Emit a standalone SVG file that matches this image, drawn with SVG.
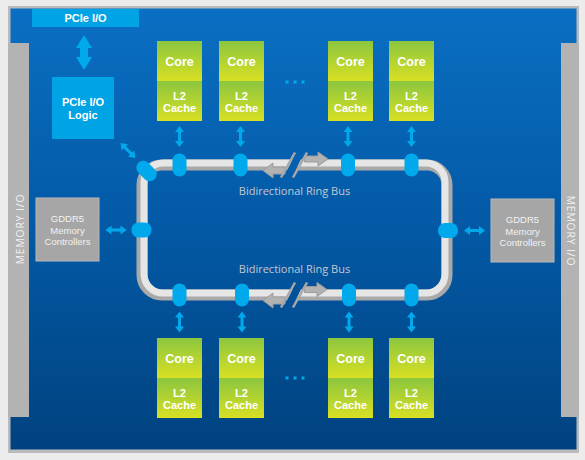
<svg xmlns="http://www.w3.org/2000/svg" width="585" height="460" viewBox="0 0 585 460">
  <defs>
    <linearGradient id="chipBlue" x1="0" y1="0" x2="0" y2="1">
      <stop offset="0" stop-color="#0a6fc3"/>
      <stop offset="0.5" stop-color="#0359a5"/>
      <stop offset="1" stop-color="#00427f"/>
    </linearGradient>
    <linearGradient id="coreGreen" x1="0" y1="0" x2="0" y2="1">
      <stop offset="0" stop-color="#8cc63f"/>
      <stop offset="1" stop-color="#d8e023"/>
    </linearGradient>
    <!-- small cyan double-headed arrow, centred on the origin, vertical -->
    <path id="dblArrow" d="M0,-10.5 L4.5,-4.5 L1.5,-4.5 L1.5,4.5 L4.5,4.5 L0,10.5 L-4.5,4.5 L-1.5,4.5 L-1.5,-4.5 L-4.5,-4.5 Z"/>
    <!-- cuts in the ring where the bus is drawn as continuing -->
    <mask id="ringCut" maskUnits="userSpaceOnUse" x="0" y="0" width="585" height="460">
      <rect x="0" y="0" width="585" height="460" fill="#fff"/>
      <polygon points="282.5,180 297,150 305.5,150 291,180" fill="#000"/>
      <polygon points="282.5,310 297,280 305.5,280 291,310" fill="#000"/>
    </mask>
  </defs>
  <style>
    .lbl { font-family: "Liberation Sans", Arial, sans-serif; fill: #ffffff; text-anchor: middle; font-weight: 700; }
    .core { font-size: 12.5px; }
    .l2 { font-size: 11px; }
    .mem { font-size: 9.5px; font-weight: 400; fill: #f2f2f2; }
    .bus { font-family: "Open Sans", "Liberation Sans", sans-serif; font-size: 11px; fill: #c3c9d0; text-anchor: middle; }
    .side { font-family: "Open Sans", "Liberation Sans", sans-serif; font-size: 10.3px; fill: #f4f4f4; text-anchor: middle; letter-spacing: 0.9px; }
    .cyan { fill: #00a9ec; }
    .slash { stroke: #a8a8a8; stroke-width: 2.5; fill: none; }
    .flow { fill: #b2b2b2; stroke: #9c9c9c; stroke-width: 1; }
    .dot { fill: #00a9ec; }
  </style>

  <!-- page and chip outline -->
  <rect x="0" y="0" width="585" height="460" fill="#ececec"/>
  <rect x="8" y="6" width="571" height="447" fill="#bababa"/>
  <rect x="10.5" y="8.5" width="566" height="441" fill="url(#chipBlue)"/>

  <!-- memory I/O strips -->
  <g id="mem-io-left">
    <rect x="8" y="43" width="21" height="374" fill="#b3b3b3"/>
    <text class="side" transform="translate(23.5,229) rotate(-90)">MEMORY I/O</text>
  </g>
  <g id="mem-io-right">
    <rect x="561" y="43" width="18" height="374" fill="#b3b3b3"/>
    <text class="side" transform="translate(566.5,231) rotate(90)">MEMORY I/O</text>
  </g>

  <!-- PCIe -->
  <g id="pcie-io">
    <rect x="32" y="9" width="107" height="18" fill="#00a3e4"/>
    <text class="lbl" x="85.5" y="22" font-size="11">PCIe I/O</text>
  </g>
  <g id="pcie-logic">
    <rect x="52" y="77" width="62" height="62" fill="#00a3e4"/>
    <text class="lbl" font-size="11"><tspan x="83" y="106">PCIe I/O</tspan><tspan x="83" y="119">Logic</tspan></text>
  </g>

  <!-- GDDR5 memory controllers -->
  <g id="gddr5-left">
    <rect x="36" y="198" width="63" height="63" fill="#a6a6a6" stroke="#b8b8b8" stroke-width="1"/>
    <text class="lbl mem"><tspan x="67.5" y="222">GDDR5</tspan><tspan x="67.5" y="233.5">Memory</tspan><tspan x="67.5" y="245">Controllers</tspan></text>
  </g>
  <g id="gddr5-right">
    <rect x="491" y="199" width="63" height="63" fill="#a6a6a6" stroke="#b8b8b8" stroke-width="1"/>
    <text class="lbl mem"><tspan x="522.5" y="223">GDDR5</tspan><tspan x="522.5" y="234.5">Memory</tspan><tspan x="522.5" y="246">Controllers</tspan></text>
  </g>

  <!-- cores, top row -->
  <g id="core-top-1">
    <rect x="157" y="41" width="45" height="40" fill="url(#coreGreen)"/>
    <rect x="157" y="81" width="45" height="40" fill="url(#coreGreen)"/>
    <text class="lbl core" x="179.5" y="66">Core</text>
    <text class="lbl l2"><tspan x="179.5" y="99.5">L2</tspan><tspan x="179.5" y="112">Cache</tspan></text>
  </g>
  <g id="core-top-2">
    <rect x="219" y="41" width="45" height="40" fill="url(#coreGreen)"/>
    <rect x="219" y="81" width="45" height="40" fill="url(#coreGreen)"/>
    <text class="lbl core" x="241.5" y="66">Core</text>
    <text class="lbl l2"><tspan x="241.5" y="99.5">L2</tspan><tspan x="241.5" y="112">Cache</tspan></text>
  </g>
  <g id="core-top-3">
    <rect x="328" y="41" width="45" height="40" fill="url(#coreGreen)"/>
    <rect x="328" y="81" width="45" height="40" fill="url(#coreGreen)"/>
    <text class="lbl core" x="350.5" y="66">Core</text>
    <text class="lbl l2"><tspan x="350.5" y="99.5">L2</tspan><tspan x="350.5" y="112">Cache</tspan></text>
  </g>
  <g id="core-top-4">
    <rect x="389" y="41" width="45" height="40" fill="url(#coreGreen)"/>
    <rect x="389" y="81" width="45" height="40" fill="url(#coreGreen)"/>
    <text class="lbl core" x="411.5" y="66">Core</text>
    <text class="lbl l2"><tspan x="411.5" y="99.5">L2</tspan><tspan x="411.5" y="112">Cache</tspan></text>
  </g>

  <!-- cores, bottom row -->
  <g id="core-bottom-1">
    <rect x="157" y="338" width="45" height="40" fill="url(#coreGreen)"/>
    <rect x="157" y="378" width="45" height="40" fill="url(#coreGreen)"/>
    <text class="lbl core" x="179.5" y="363">Core</text>
    <text class="lbl l2"><tspan x="179.5" y="396.5">L2</tspan><tspan x="179.5" y="409">Cache</tspan></text>
  </g>
  <g id="core-bottom-2">
    <rect x="219" y="338" width="45" height="40" fill="url(#coreGreen)"/>
    <rect x="219" y="378" width="45" height="40" fill="url(#coreGreen)"/>
    <text class="lbl core" x="241.5" y="363">Core</text>
    <text class="lbl l2"><tspan x="241.5" y="396.5">L2</tspan><tspan x="241.5" y="409">Cache</tspan></text>
  </g>
  <g id="core-bottom-3">
    <rect x="328" y="338" width="45" height="40" fill="url(#coreGreen)"/>
    <rect x="328" y="378" width="45" height="40" fill="url(#coreGreen)"/>
    <text class="lbl core" x="350.5" y="363">Core</text>
    <text class="lbl l2"><tspan x="350.5" y="396.5">L2</tspan><tspan x="350.5" y="409">Cache</tspan></text>
  </g>
  <g id="core-bottom-4">
    <rect x="389" y="338" width="45" height="40" fill="url(#coreGreen)"/>
    <rect x="389" y="378" width="45" height="40" fill="url(#coreGreen)"/>
    <text class="lbl core" x="411.5" y="363">Core</text>
    <text class="lbl l2"><tspan x="411.5" y="396.5">L2</tspan><tspan x="411.5" y="409">Cache</tspan></text>
  </g>

  <!-- ellipsis between core pairs -->
  <g id="more-cores">
    <rect class="dot" x="285.5" y="80.5" width="3" height="3"/>
    <rect class="dot" x="293.5" y="80.5" width="3" height="3"/>
    <rect class="dot" x="301.5" y="80.5" width="3" height="3"/>
    <rect class="dot" x="285.5" y="376.5" width="3" height="3"/>
    <rect class="dot" x="293.5" y="376.5" width="3" height="3"/>
    <rect class="dot" x="301.5" y="376.5" width="3" height="3"/>
  </g>

  <!-- ring bus and connectors -->
  <g id="connectors">
    <g id="ring" mask="url(#ringCut)">
      <rect x="142" y="165" width="305" height="130" rx="20" ry="20" fill="none" stroke="#a9a9a9" stroke-width="11"/>
      <rect x="144" y="163" width="301" height="130" rx="19" ry="19" fill="none" stroke="#e6e6e6" stroke-width="7"/>
    </g>
    <!-- direction marks on the bus -->
    <polygon class="flow" points="263,170.5 273,163 273,167 285,167 285,174 273,174 273,178"/>
    <polygon class="flow" points="328,159 318,152 318,156 304.5,156 304.5,162 318,162 318,166"/>
    <polygon class="flow" points="263,300.5 273,293 273,297 285,297 285,304 273,304 273,308"/>
    <polygon class="flow" points="327,289.5 317,282.5 317,286.5 304.5,286.5 304.5,292.5 317,292.5 317,296.5"/>
    <path class="slash" d="M281,177.5 L295,152.5 M293,177.5 L307,152.5"/>
    <path class="slash" d="M281,307.5 L295,282.5 M293,307.5 L307,282.5"/>

    <text class="bus" x="294.5" y="194.5">Bidirectional Ring Bus</text>
    <text class="bus" x="294.5" y="273">Bidirectional Ring Bus</text>

    <!-- ring stops -->
    <rect class="cyan" x="172.5" y="153.5" width="14" height="23" rx="7"/>
    <rect class="cyan" x="233.5" y="153.5" width="14" height="23" rx="7"/>
    <rect class="cyan" x="341" y="153.5" width="14" height="23" rx="7"/>
    <rect class="cyan" x="404.5" y="153.5" width="14" height="23" rx="7"/>
    <rect class="cyan" x="172.5" y="283.5" width="14" height="23" rx="7"/>
    <rect class="cyan" x="235" y="283.5" width="14" height="23" rx="7"/>
    <rect class="cyan" x="342" y="283.5" width="14" height="23" rx="7"/>
    <rect class="cyan" x="404.5" y="283.5" width="14" height="23" rx="7"/>
    <rect class="cyan" x="131.5" y="222.5" width="20" height="15" rx="7"/>
    <rect class="cyan" x="438" y="223" width="20" height="15" rx="7"/>
    <rect class="cyan" x="-7" y="-11.5" width="14" height="23" rx="7" transform="translate(146.5,171) rotate(-45)"/>

    <!-- links from cores, PCIe and memory to the ring -->
    <use href="#dblArrow" class="cyan" x="179.5" y="136.5"/>
    <use href="#dblArrow" class="cyan" x="240.5" y="136.5"/>
    <use href="#dblArrow" class="cyan" x="348" y="136.5"/>
    <use href="#dblArrow" class="cyan" x="411.5" y="136.5"/>
    <use href="#dblArrow" class="cyan" x="179.5" y="322"/>
    <use href="#dblArrow" class="cyan" x="242" y="322"/>
    <use href="#dblArrow" class="cyan" x="349" y="322"/>
    <use href="#dblArrow" class="cyan" x="411.5" y="322"/>
    <use href="#dblArrow" class="cyan" transform="translate(116,230) rotate(90)"/>
    <use href="#dblArrow" class="cyan" transform="translate(474.5,230.5) rotate(90)"/>
    <use href="#dblArrow" class="cyan" transform="translate(128,150.5) rotate(-45)"/>
    <path class="cyan" d="M84,35 L92,48 L88,48 L88,57 L92,57 L84,70 L76,57 L80,57 L80,48 L76,48 Z"/>
  </g>
</svg>
